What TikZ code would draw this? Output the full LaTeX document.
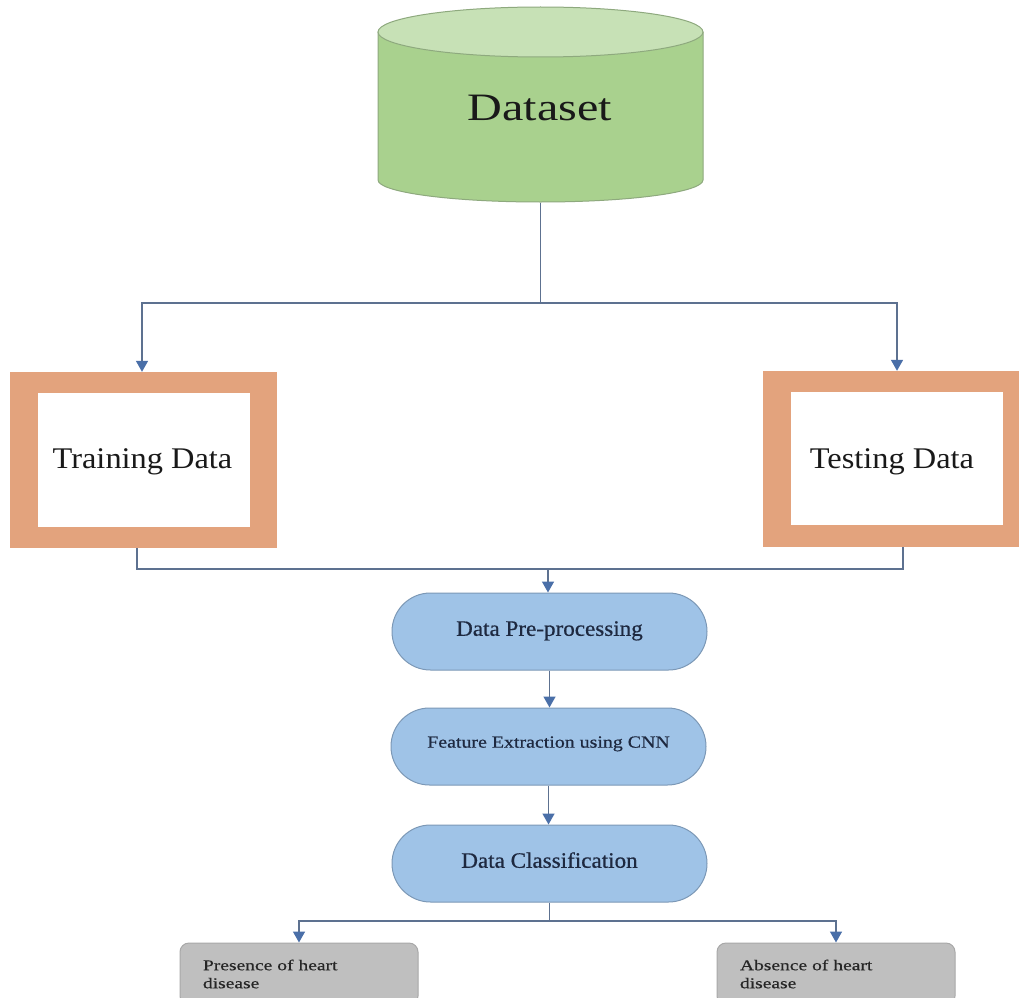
\documentclass[tikz,border=0pt]{standalone}
\usepackage{fontspec}
\setmainfont{Liberation Serif}
\newfontfamily\fDataset[FakeStretch=1.24]{Liberation Serif}
\newfontfamily\fSplit[FakeStretch=1.08]{Liberation Serif}
\newfontfamily\fStep[FakeStretch=1.05,FakeBold=0.6]{Liberation Serif}
\newfontfamily\fFeat[FakeStretch=1.17,FakeBold=0.6]{Liberation Serif}
\newfontfamily\fOut[FakeStretch=1.3,FakeBold=0.5]{Liberation Serif}
\usetikzlibrary{arrows.meta,calc}

\definecolor{cylbody}{HTML}{A9D18E}
\definecolor{cyltop}{HTML}{C7E1B6}
\definecolor{cylline}{HTML}{8EA97E}
\definecolor{frame}{HTML}{E3A37D}
\definecolor{pillfill}{HTML}{9FC3E7}
\definecolor{pillline}{HTML}{7C98B6}
\definecolor{grayfill}{HTML}{BFBFBF}
\definecolor{grayline}{HTML}{A8A8A8}
\definecolor{wire}{HTML}{5D7190}
\definecolor{tipblue}{HTML}{4A6FA8}
\definecolor{navy}{HTML}{1E2940}

\tikzset{
  wireline/.style={draw=wire, line width=1.5pt},
  arr/.style={wireline, -{Triangle[width=12pt,length=11pt,color=tipblue,fill=tipblue]}},
  framebox/.style={fill=frame, inner sep=0pt},
  innerbox/.style={fill=white, inner sep=0pt},
  pill/.style={draw=pillline, line width=1pt, fill=pillfill, rounded corners=38.5pt,
    minimum width=315pt, minimum height=77pt, inner sep=0pt, text=navy},
  outbox/.style={draw=grayline, line width=1pt, fill=grayfill, rounded corners=9pt,
    minimum width=238pt, minimum height=62pt, inner xsep=23pt, inner ysep=0pt,
    text width=192pt, align=left, text=black!85, font=\fOut\fontsize{15}{18}\selectfont},
}

\begin{document}
\begin{tikzpicture}[x=1pt,y=-1pt]
  \useasboundingbox (0,0) rectangle (1020,998);
  \fill[white] (0,0) rectangle (1020,998);

  % dataset cylinder
  \fill[cylbody] (378,32) -- (378,180)
    arc[start angle=180, end angle=0, x radius=162.5, y radius=22] -- (703,32) -- cycle;
  \draw[cylline, line width=1pt] (378,32) -- (378,180)
    arc[start angle=180, end angle=0, x radius=162.5, y radius=22] -- (703,32);
  \filldraw[fill=cyltop, draw=cylline, line width=1pt] (540.5,32) ellipse[x radius=162.5, y radius=25];
  \node[minimum width=325pt, minimum height=195pt, inner sep=0pt] (ds) at (540.5,105) {};
  \node[anchor=base, inner sep=0pt, text=black!90, font=\fDataset\fontsize{38.8}{44}\selectfont]
    (dstext) at (540,120) {Dataset};

  % training and testing frames
  \node[framebox, minimum width=267pt, minimum height=176pt] (train) at (143.5,460) {};
  \node[innerbox, minimum width=212pt, minimum height=134pt] (traininner) at (144,460) {};
  \node[anchor=base, inner sep=0pt, text=black!90, font=\fSplit\fontsize{30}{34}\selectfont]
    (traintext) at (142.5,468) {Training Data};

  \node[framebox, minimum width=256pt, minimum height=176pt] (test) at (891,459) {};
  \node[innerbox, minimum width=212pt, minimum height=133pt] (testinner) at (897,458.5) {};
  \node[anchor=base, inner sep=0pt, text=black!90, font=\fSplit\fontsize{30}{34}\selectfont]
    (testtext) at (892,468) {Testing Data};

  % processing steps
  \node[pill, font=\fStep\fontsize{22}{26}\selectfont] (pre) at (549.5,631.5) {\raisebox{6pt}{Data Pre-processing}};
  \node[pill, font=\fFeat\fontsize{17}{20}\selectfont] (feat) at (548.5,746.5) {\raisebox{9pt}{Feature Extraction using CNN}};
  \node[pill, font=\fStep\fontsize{22}{26}\selectfont] (cls) at (549.5,863.5) {\raisebox{7pt}{Data Classification}};

  % outcomes
  \node[outbox] (pres) at (299,974) {Presence of heart\\disease};
  \node[outbox] (abs) at (836,974) {Absence of heart\\disease};

  % connectors: dataset split
  \coordinate (split) at (540.5,303);
  \draw[wireline] (ds.south) -- (split);
  \draw[arr] (split) -| ([xshift=-1.5pt]train.north);
  \draw[arr] (split) -| ([xshift=6pt]test.north);

  % connectors: merge into pre-processing
  \coordinate (merge) at (548,569);
  \draw[wireline] ([xshift=-6.5pt]train.south) |- (merge);
  \draw[wireline] ([xshift=12pt]test.south) |- (merge);
  \draw[arr] (merge) -- ([xshift=-1.5pt]pre.north);

  % pipeline
  \draw[arr] (pre.south) -- (pre.south |- feat.north);
  \draw[arr] (feat.south) -- (feat.south |- cls.north);

  % outcome fork
  \coordinate (fork) at (549.5,921);
  \draw[wireline] (cls.south) -- (fork);
  \draw[arr] (fork) -| (pres.north);
  \draw[arr] (fork) -| (abs.north);
\end{tikzpicture}
\end{document}
